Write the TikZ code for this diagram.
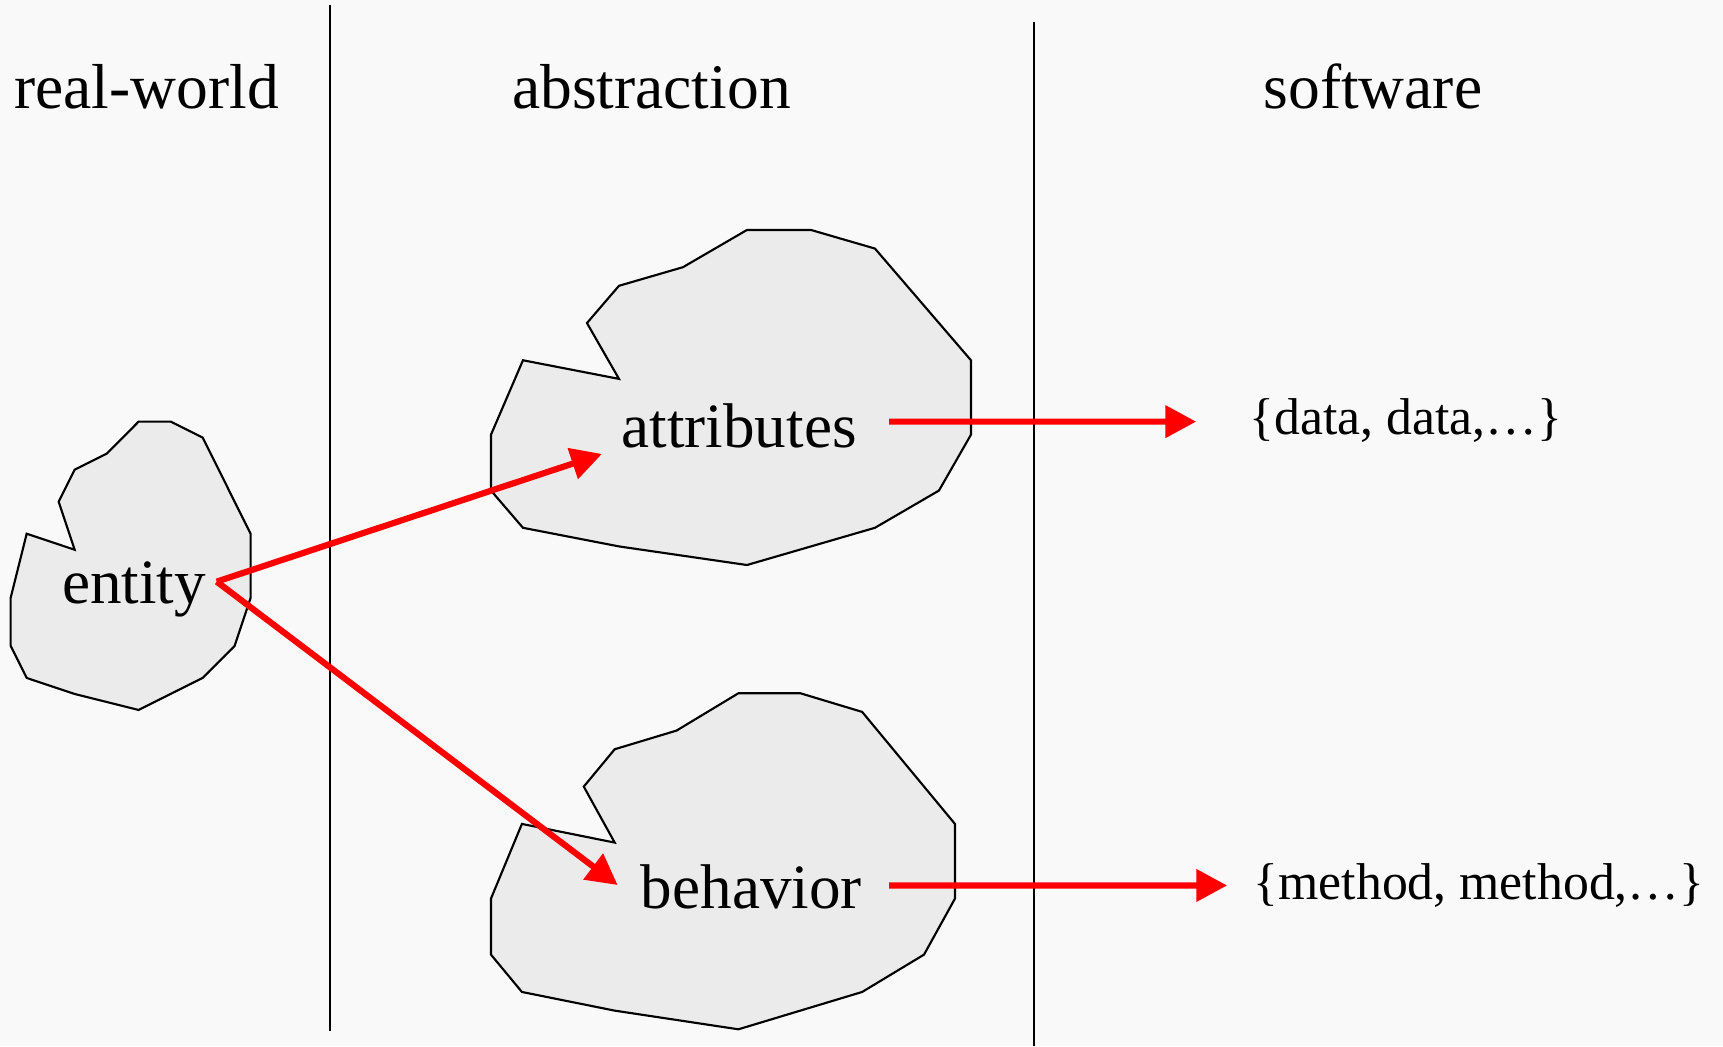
\documentclass[tikz,border=0pt]{standalone}
\usepackage{fontspec}
\setmainfont{Liberation Serif}
\usetikzlibrary{arrows.meta,positioning}

\definecolor{paper}{RGB}{249,249,249}
\definecolor{blobgray}{RGB}{235,235,235}

\tikzset{
  divider/.style={black, line width=0.5pt},
  blobline/.style={draw=black, fill=blobgray, line width=0.55pt, line join=miter},
  header/.style={inner sep=0pt, anchor=base, font=\fontsize{16.45}{19}\selectfont},
  label/.style={inner sep=0pt, anchor=base, font=\fontsize{16.35}{19}\selectfont},
  setlabel/.style={inner sep=0pt, anchor=base, font=\fontsize{13.4}{16}\selectfont},
  flow/.style={red, line width=1.6pt, -{Triangle[length=2.8mm,width=2.85mm]}},
  blob/.pic={
    \draw[blobline] (8,18) -- (10,18) -- (12,17) -- (15,11) -- (15,7) -- (14,4)
      -- (12,2) -- (8,0) -- (4,1) -- (1,2) -- (0,4) -- (0,7) -- (1,11)
      -- (4,10) -- (3,13) -- (4,15) -- (6,16) -- cycle;
  }
}

\begin{document}
\begin{tikzpicture}
                % Background and size
                \fill[paper] (0,0) rectangle (15.68,9.52);
                \useasboundingbox (0,0) rectangle (15.68,9.52);

                % Column dividers
                \draw[divider] (3.005,9.477) -- (3.005,0.14);
                \draw[divider] (9.41,9.32) -- (9.41,0);

                % Column headers
                \node[header] (realworld) at (1.335,8.53) {real-world};
                \node[header] (abstraction) at (5.928,8.53) {abstraction};
                \node[header] (software) at (12.494,8.53) {software};

                % Blobs
                \pic[xscale=0.1456, yscale=0.1458] (entityblob) at (0.097,3.059) {blob};
                \pic[xscale=0.2912, yscale=0.1694] (attrblob) at (4.468,4.378) {blob};
                \pic[xscale=0.2815, yscale=0.1699] (behavblob) at (4.468,0.153) {blob};

                % Labels inside the blobs
                \node[label] (entity) at (1.219,4.024) {entity};
                \node[label] (attributes) at (6.726,5.446) {attributes};
                \node[label] (behavior) at (6.837,1.254) {behavior};

                % Software side
                \node[setlabel] (data) at (12.795,5.57) {\{data, data,…\}};
                \node[setlabel] (method) at (13.46,1.336) {\{method, method,…\}};

                % Arrows from the entity
                \draw[flow] ([shift={(0.092,0.203)}]entity.base east) -- ([shift={(-0.172,-0.057)}]attributes.base west);
                \draw[flow] ([shift={(0.092,0.203)}]entity.base east) -- ([shift={(-0.204,0.212)}]behavior.base west);

                % Arrows into software
                \draw[flow] ([shift={(0.288,0.237)}]attributes.base east) -- ([shift={(-0.48,0.113)}]data.base west);
                \draw[flow] ([shift={(0.241,0.208)}]behavior.base east) -- ([shift={(-0.235,0.126)}]method.base west);
            \end{tikzpicture}
\end{document}
